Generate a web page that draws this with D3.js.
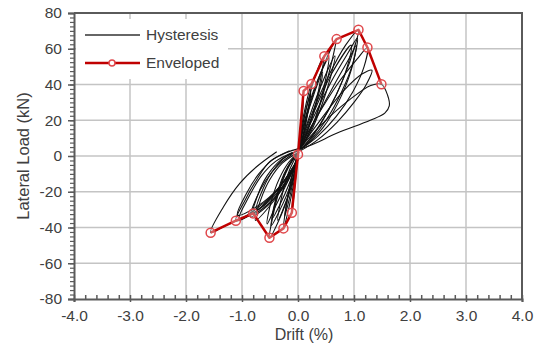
<!DOCTYPE html>
<html>
<head>
<meta charset="utf-8">
<script src="https://cdn.jsdelivr.net/npm/d3@7"></script>
<style>
  body { margin: 0; background: #fff; }
  svg { display: block; font-family: "Liberation Sans", Arial, sans-serif; }
</style>
</head>
<body>
<div id="chart"></div>
<script>
const width = 540;
const height = 346;

const xTicks = [-4, -3, -2, -1, 0, 1, 2, 3, 4];
const yTicks = [-80, -60, -40, -20, 0, 20, 40, 60, 80];

// envelope points, drift (%) / load (kN)
const envDrift = [-1.56, -1.11, -0.80, -0.51, -0.26, -0.11, 0.0, 0.10, 0.24, 0.47, 0.69, 1.08, 1.24, 1.49];
const envLoad = [-42.9, -36.2, -32.1, -45.7, -40.5, -31.7, 0.9, 36.4, 40.3, 55.8, 65.4, 70.6, 60.7, 40.1];

// hysteresis cycles, [drift, load]
const posLoops = [
  [[0,0],[0.04,15],[0.08,28],[0.10,36.4],[0.09,28],[0.05,14],[0.01,3]],
  [[0,1],[0.06,16],[0.15,30],[0.24,40.3],[0.2,30],[0.12,16],[0.03,4]],
  [[0,1],[0.07,15],[0.16,28],[0.23,35],[0.18,25],[0.1,12],[0.02,3]],
  [[0,2],[0.1,20],[0.28,42],[0.46,55.6],[0.42,46],[0.32,30],[0.18,15],[0.04,4]],
  [[0,2],[0.12,18],[0.3,36],[0.44,47],[0.38,36],[0.26,22],[0.12,10],[0.02,3]],
  [[0,2],[0.12,20],[0.32,40],[0.55,55],[0.5,44],[0.38,28],[0.2,13],[0.03,4]],
  [[0,2],[0.15,22],[0.4,46],[0.68,65.3],[0.62,55],[0.48,38],[0.3,20],[0.08,6]],
  [[0,2],[0.16,18],[0.42,40],[0.66,56],[0.58,44],[0.42,28],[0.22,13],[0.04,4]],
  [[0,3],[0.25,22],[0.6,46],[0.95,62],[0.88,50],[0.68,34],[0.4,18],[0.1,5]],
  [[0,3],[0.2,20],[0.55,45],[0.85,62],[1.08,70.5],[1.0,60],[0.82,44],[0.55,26],[0.28,12],[0.05,4]],
  [[0,3],[0.25,20],[0.6,42],[0.9,58],[1.06,66],[0.98,52],[0.78,36],[0.5,20],[0.2,8],[0.03,3]],
  [[0,3],[0.3,20],[0.65,40],[0.92,55],[1.04,62],[0.95,48],[0.72,30],[0.45,16],[0.15,6]],
  [[0,3],[0.3,20],[0.7,40],[1.05,54],[1.24,60.7],[1.18,50],[0.98,36],[0.68,22],[0.35,11],[0.06,4]],
  [[0,3],[0.35,18],[0.8,36],[1.15,46],[1.32,48],[1.22,40],[1.0,30],[0.7,19],[0.35,9],[0.05,3]],
  [[0,3],[0.4,17],[0.9,31],[1.3,39.5],[1.49,40.1],[1.6,34],[1.63,28],[1.55,24],[1.29,20],[0.69,12.7],[0.3,7],[0.05,4]]
];

const negLoops = [
  [[0,0],[-0.04,-12],[-0.08,-24],[-0.11,-31.7],[-0.09,-22],[-0.05,-10],[0,1]],
  [[0,0],[-0.07,-14],[-0.17,-30],[-0.26,-40.5],[-0.22,-30],[-0.13,-15],[-0.02,0]],
  [[0,0],[-0.08,-13],[-0.17,-26],[-0.24,-34],[-0.19,-24],[-0.1,-10],[0,1]],
  [[0,-1],[-0.1,-14],[-0.22,-26],[-0.36,-36],[-0.3,-24],[-0.2,-12],[-0.08,-3],[0.02,2]],
  [[0,-1],[-0.12,-17],[-0.3,-33],[-0.51,-45.7],[-0.45,-34],[-0.34,-20],[-0.18,-7],[0,2]],
  [[0,-1],[-0.13,-16],[-0.32,-30],[-0.48,-39],[-0.42,-28],[-0.3,-15],[-0.14,-4],[0,2]],
  [[0,-1],[-0.18,-14],[-0.4,-28],[-0.55,-38],[-0.5,-28],[-0.38,-16],[-0.2,-5],[0,2]],
  [[0,-1],[-0.15,-15],[-0.32,-27],[-0.46,-35],[-0.38,-22],[-0.25,-10],[-0.1,-2],[0.02,2]],
  [[0,-1],[-0.2,-15],[-0.5,-26],[-0.8,-32.1],[-0.72,-22],[-0.55,-11],[-0.3,-2],[0,3]],
  [[0,-1],[-0.2,-14],[-0.48,-27],[-0.76,-36],[-0.66,-24],[-0.5,-13],[-0.28,-4],[0,2]],
  [[0,-1],[-0.22,-13],[-0.5,-24],[-0.74,-30],[-0.62,-18],[-0.42,-7],[-0.2,0],[0.02,3]],
  [[0,-1],[-0.25,-16],[-0.55,-28],[-0.85,-34],[-0.75,-24],[-0.58,-14],[-0.35,-5],[-0.1,1]],
  [[0,-2],[-0.3,-18],[-0.7,-30],[-1.11,-36.2],[-0.95,-25],[-0.74,-13.4],[-0.5,-3],[-0.2,2],[0,4]],
  [[0,-2],[-0.35,-18],[-0.75,-31],[-1.05,-35],[-0.88,-23],[-0.65,-11],[-0.4,-3],[-0.1,2]],
  [[0,-2],[-0.32,-17],[-0.72,-28],[-1.08,-33],[-0.92,-21],[-0.7,-10],[-0.45,-2],[-0.15,3]],
  [[0,-2],[-0.4,-20],[-0.9,-33],[-1.3,-39],[-1.56,-42.9],[-1.33,-28.4],[-1.04,-15.3],[-0.74,-6],[-0.38,2.4]]
];

const margin = { top: 13, right: 18, bottom: 47, left: 74 };

const x = d3.scaleLinear().domain([-4, 4]).range([margin.left, width - margin.right]);
const y = d3.scaleLinear().domain([-80, 80]).range([height - margin.bottom, margin.top]);

const svg = d3.select('#chart').append('svg')
  .attr('width', width)
  .attr('height', height)
  .attr('viewBox', [0, 0, width, height]);

const textColor = '#404040';
const axisColor = '#5a5a5a';

// grid
svg.append('g')
  .attr('stroke', '#c4c4c4')
  .attr('stroke-width', 1.5)
  .call(g => g.selectAll('.vx').data(xTicks.slice(1, -1)).join('line')
    .attr('x1', d => x(d)).attr('x2', d => x(d))
    .attr('y1', y(80)).attr('y2', y(-80)))
  .call(g => g.selectAll('.hy').data(yTicks.slice(1, -1)).join('line')
    .attr('class', 'hy')
    .attr('x1', x(-4)).attr('x2', x(4))
    .attr('y1', d => y(d)).attr('y2', d => y(d)));

// legend box background (hides grid)
svg.append('rect')
  .attr('x', 76).attr('y', 19)
  .attr('width', 152).attr('height', 60)
  .attr('fill', '#fff');

// hysteresis
const loopLine = d3.line()
  .x(d => x(d[0]))
  .y(d => y(d[1]))
  .curve(d3.curveCatmullRom.alpha(0.5));

svg.append('g')
  .attr('fill', 'none')
  .attr('stroke', '#111')
  .attr('stroke-width', 1.1)
  .attr('stroke-linejoin', 'round')
  .selectAll('path')
  .data(posLoops.concat(negLoops))
  .join('path')
  .attr('d', loopLine);

// envelope
const env = envDrift.map((d, i) => ({ x: d, y: envLoad[i] }));

svg.append('path')
  .datum(env)
  .attr('fill', 'none')
  .attr('stroke', '#c00000')
  .attr('stroke-width', 2.5)
  .attr('stroke-linejoin', 'round')
  .attr('d', d3.line().x(d => x(d.x)).y(d => y(d.y)));

svg.append('g')
  .selectAll('circle')
  .data(env)
  .join('circle')
  .attr('cx', d => x(d.x))
  .attr('cy', d => y(d.y))
  .attr('r', 4.5)
  .attr('fill', 'rgba(255,255,255,0.35)')
  .attr('stroke', '#e0484c')
  .attr('stroke-width', 1.5);

// axes
const xAxis = g => g
  .attr('transform', `translate(0,${y(-80)})`)
  .call(d3.axisBottom(x).tickValues(xTicks).tickSize(3).tickPadding(8))
  .call(g => g.select('.domain').attr('stroke', axisColor).attr('stroke-width', 2))
  .call(g => g.selectAll('.tick line').attr('stroke', axisColor).attr('stroke-width', 1.5))
  .call(g => g.selectAll('.tick text')
    .attr('fill', textColor).attr('font-size', 15.5)
    .text(d => d.toFixed(1)));

const xMinor = g => g
  .attr('transform', `translate(0,${y(-80)})`)
  .call(d3.axisTop(x).tickValues(d3.range(-40, 41, 2).map(d => d / 10)).tickSize(4).tickFormat(''))
  .call(g => g.select('.domain').remove())
  .call(g => g.selectAll('.tick line').attr('stroke', axisColor).attr('stroke-width', 1.5));

const yAxis = g => g
  .attr('transform', `translate(${x(-4)},0)`)
  .call(d3.axisLeft(y).tickValues(yTicks).tickSize(6).tickPadding(6))
  .call(g => g.select('.domain').attr('stroke', axisColor).attr('stroke-width', 2))
  .call(g => g.selectAll('.tick line').attr('stroke', axisColor).attr('stroke-width', 1.5))
  .call(g => g.selectAll('.tick text')
    .attr('fill', textColor).attr('font-size', 15.5)
    .text(d => String(d)));

const yMinor = g => g
  .attr('transform', `translate(${x(-4)},0)`)
  .call(d3.axisLeft(y).tickValues(d3.range(-32, 33).map(d => d * 2.5)).tickSize(4).tickFormat(''))
  .call(g => g.select('.domain').remove())
  .call(g => g.selectAll('.tick line').attr('stroke', axisColor).attr('stroke-width', 1.2));

svg.append('g').call(xMinor);
svg.append('g').call(yMinor);
svg.append('g').call(xAxis);
svg.append('g').call(yAxis);

// top and right border
svg.append('path')
  .attr('fill', 'none')
  .attr('stroke', axisColor)
  .attr('stroke-width', 2)
  .attr('d', `M${x(-4)},${y(80)}H${x(4)}V${y(-80)}`);

// axis titles
svg.append('text')
  .attr('x', x(0) + 6)
  .attr('y', 340)
  .attr('text-anchor', 'middle')
  .attr('fill', textColor)
  .attr('font-size', 16)
  .text('Drift (%)');

svg.append('text')
  .attr('transform', `translate(29,${y(0)}) rotate(-90)`)
  .attr('text-anchor', 'middle')
  .attr('fill', textColor)
  .attr('font-size', 16.5)
  .text('Lateral Load (kN)');

// legend
const legend = svg.append('g').attr('font-size', 15.5).attr('fill', textColor);

legend.append('line')
  .attr('x1', 85).attr('x2', 140).attr('y1', 35).attr('y2', 35)
  .attr('stroke', '#333').attr('stroke-width', 1.5);
legend.append('text').attr('x', 146).attr('y', 40).text('Hysteresis');

legend.append('line')
  .attr('x1', 85).attr('x2', 140).attr('y1', 63).attr('y2', 63)
  .attr('stroke', '#c00000').attr('stroke-width', 2.5);
legend.append('circle')
  .attr('cx', 112).attr('cy', 63).attr('r', 3)
  .attr('fill', '#fff').attr('stroke', '#e0484c').attr('stroke-width', 1.5);
legend.append('text').attr('x', 146).attr('y', 68).text('Enveloped');
</script>
</body>
</html>
